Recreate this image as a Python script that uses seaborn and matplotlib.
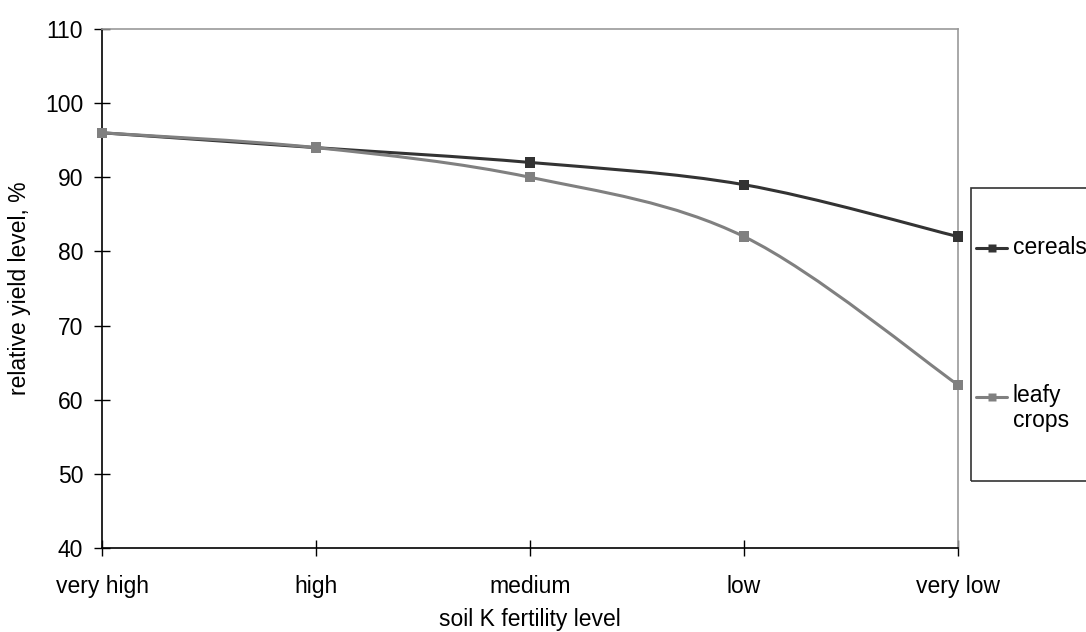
import numpy as np
import pandas as pd
import matplotlib
matplotlib.use("Agg")
import matplotlib.pyplot as plt
import seaborn as sns
from matplotlib.path import Path
from matplotlib.patches import PathPatch, Rectangle
from matplotlib.lines import Line2D

levels = ["very high", "high", "medium", "low", "very low"]
cereals = [96, 94, 92, 89, 82]
leafy = [96, 94, 90, 82, 62]
y_ticks = [40, 50, 60, 70, 80, 90, 100, 110]

sns.set_style("white")
plt.rcParams["font.family"] = ["Liberation Sans", "DejaVu Sans"]
plt.rcParams["text.color"] = "black"
plt.rcParams["axes.labelcolor"] = "black"
plt.rcParams["xtick.color"] = "black"
plt.rcParams["ytick.color"] = "black"

fig = plt.figure(figsize=(10.86, 6.32), dpi=100)
ax = fig.add_axes([102 / 1086, 1 - 548 / 632, 856 / 1086, 519 / 632])

df = pd.DataFrame({"level": list(range(len(levels))) * 2,
                   "value": cereals + leafy,
                   "crop": ["cereals"] * 5 + ["leafy\ncrops"] * 5})
colors = {"cereals": "#333333", "leafy\ncrops": "#808080"}


def smooth_path(xs, ys):
    # Excel-style smoothed line: Catmull-Rom segments as cubic Bezier curves
    pts = np.column_stack([xs, ys]).astype(float)
    verts = [pts[0]]
    codes = [Path.MOVETO]
    n = len(pts)
    for i in range(n - 1):
        p0 = pts[i - 1] if i > 0 else pts[i]
        p1 = pts[i]
        p2 = pts[i + 1]
        p3 = pts[i + 2] if i + 2 < n else pts[i + 1]
        c1 = p1 + (p2 - p0) / 6
        c2 = p2 - (p3 - p1) / 6
        verts += [c1, c2, p2]
        codes += [Path.CURVE4] * 3
    return Path(verts, codes)


for crop, sub in df.groupby("crop", sort=False):
    ax.add_patch(PathPatch(smooth_path(sub["level"], sub["value"]), fill=False,
                           edgecolor=colors[crop], lw=2.2, zorder=3))
sns.scatterplot(data=df, x="level", y="value", hue="crop", palette=colors,
                marker="s", s=55, edgecolor="none", legend=False, ax=ax,
                zorder=4, clip_on=False)

ax.set_xlim(0, 4)
ax.set_ylim(40, 110)
ax.set_xticks(range(len(levels)))
ax.set_xticklabels(levels)
ax.set_yticks(y_ticks)
ax.tick_params(axis="both", direction="inout", length=11, width=1,
               color="black", labelsize=16.5, bottom=True, left=True)
ax.tick_params(axis="y", pad=8)
ax.tick_params(axis="x", pad=14)
for side in ["left", "bottom"]:
    ax.spines[side].set_color("black")
    ax.spines[side].set_linewidth(1.2)
for side in ["top", "right"]:
    ax.spines[side].set_color("#999999")
    ax.spines[side].set_linewidth(1.2)
ax.set_xlabel("soil K fertility level", fontsize=16.5, labelpad=7)
ax.set_ylabel("relative yield level, %", fontsize=16.5, labelpad=10)

# legend box on the right, partially outside the figure
W, H = 1086, 632
fig.add_artist(Rectangle((971 / W, 1 - 481 / H), 200 / W, 293 / H,
                         transform=fig.transFigure, fill=False,
                         edgecolor="#333333", lw=1.2))
entries = [("cereals", 248), ("leafy\ncrops", 397)]
for label, ypx in entries:
    yf = 1 - ypx / H
    fig.add_artist(Line2D([976 / W, 1007 / W], [yf, yf], transform=fig.transFigure,
                          color=colors[label], lw=2.2))
    fig.add_artist(Line2D([991.5 / W], [yf], transform=fig.transFigure,
                          color=colors[label], marker="s", ms=6, mec="none"))
    if "\n" in label:
        fig.text(1013 / W, yf + 13 / H, label, fontsize=16.5, va="top", ha="left",
                 linespacing=1.1)
    else:
        fig.text(1013 / W, yf, label, fontsize=16.5, va="center", ha="left")

fig.savefig("out.png", dpi=100)
